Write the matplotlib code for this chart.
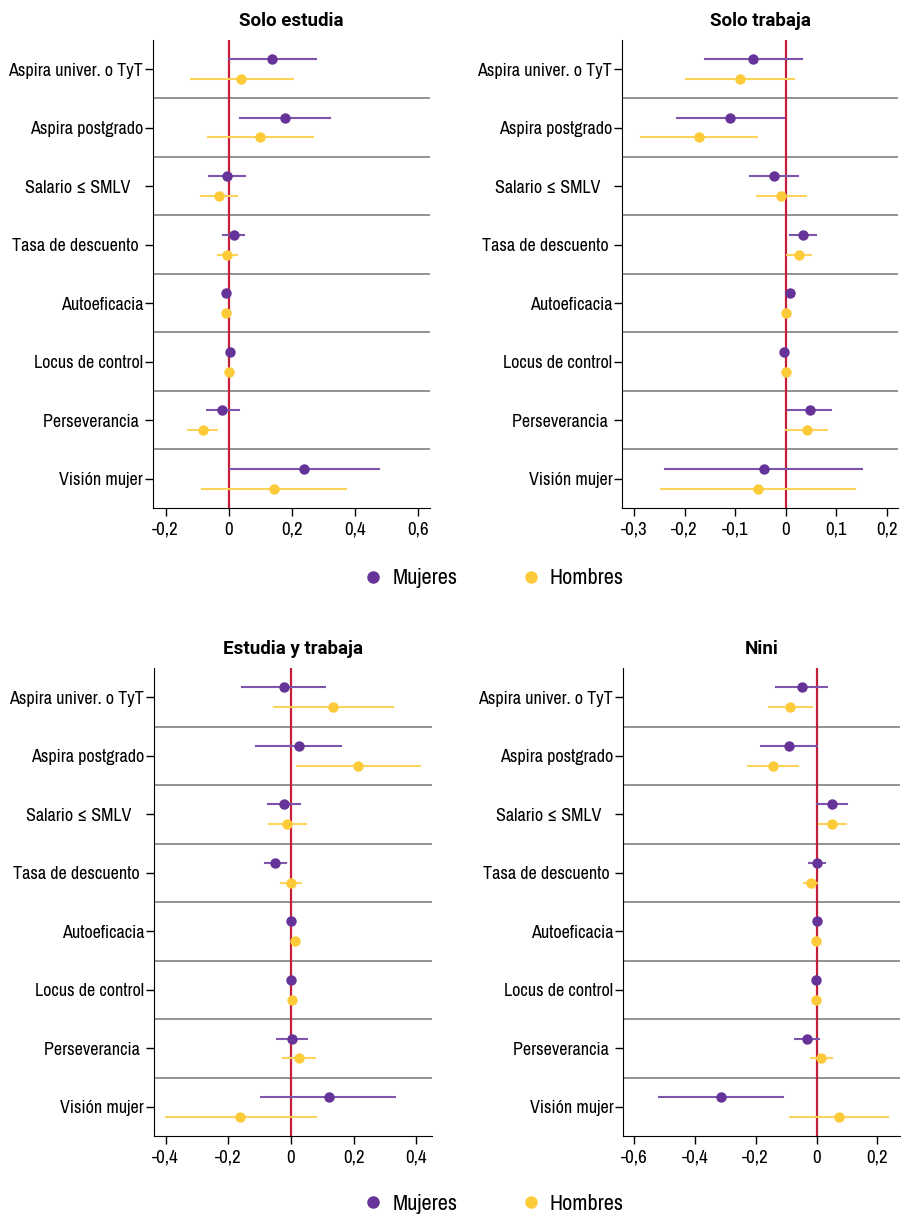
import matplotlib
matplotlib.use("Agg")
import matplotlib.pyplot as plt
from matplotlib.lines import Line2D
from matplotlib import font_manager

# ── datos (estimación, límite inferior, límite superior) ─────────────
categorias = ["Aspira univer. o TyT", "Aspira postgrado", "Salario \u2264 SMLV   ",
              "Tasa de descuento ", "Autoeficacia", "Locus de control",
              "Perseverancia ", "Visión mujer"]

solo_estudia_mujeres = [(0.137, 0.000, 0.275), (0.177, 0.035, 0.319), (-0.007, -0.063, 0.051),
                        (0.015, -0.019, 0.049), (-0.009, -0.014, -0.004), (0.003, -0.002, 0.008),
                        (-0.020, -0.068, 0.032), (0.239, 0.005, 0.475)]
solo_estudia_hombres = [(0.040, -0.121, 0.202), (0.100, -0.066, 0.267), (-0.032, -0.089, 0.026),
                        (-0.005, -0.035, 0.025), (-0.009, -0.014, -0.004), (0.000, -0.005, 0.005),
                        (-0.082, -0.130, -0.037), (0.143, -0.084, 0.372)]

solo_trabaja_mujeres = [(-0.064, -0.160, 0.032), (-0.110, -0.216, -0.004), (-0.023, -0.070, 0.025),
                        (0.034, 0.009, 0.059), (0.009, 0.006, 0.012), (-0.003, -0.006, 0.000),
                        (0.047, 0.005, 0.089), (-0.044, -0.238, 0.150)]
solo_trabaja_hombres = [(-0.090, -0.198, 0.017), (-0.172, -0.286, -0.057), (-0.009, -0.057, 0.040),
                        (0.026, 0.002, 0.050), (0.000, -0.003, 0.003), (0.000, -0.003, 0.003),
                        (0.042, 0.000, 0.082), (-0.055, -0.246, 0.137)]

estudia_trabaja_mujeres = [(-0.023, -0.155, 0.108), (0.025, -0.110, 0.159), (-0.022, -0.073, 0.030),
                           (-0.050, -0.082, -0.017), (0.000, -0.004, 0.004), (0.001, -0.003, 0.005),
                           (0.004, -0.043, 0.051), (0.121, -0.094, 0.333)]
estudia_trabaja_hombres = [(0.135, -0.054, 0.327), (0.215, 0.020, 0.411), (-0.012, -0.069, 0.048),
                           (0.000, -0.032, 0.031), (0.012, 0.008, 0.016), (0.002, -0.002, 0.006),
                           (0.026, -0.025, 0.076), (-0.161, -0.400, 0.079)]

nini_mujeres = [(-0.049, -0.132, 0.033), (-0.091, -0.184, 0.000), (0.052, 0.002, 0.101),
                (0.000, -0.025, 0.029), (0.002, -0.002, 0.006), (-0.001, -0.005, 0.003),
                (-0.031, -0.071, 0.009), (-0.314, -0.518, -0.112)]
nini_hombres = [(-0.088, -0.158, -0.015), (-0.144, -0.226, -0.060), (0.052, 0.008, 0.095),
                (-0.020, -0.041, 0.001), (-0.001, -0.005, 0.003), (-0.001, -0.005, 0.003),
                (0.016, -0.018, 0.050), (0.072, -0.088, 0.234)]

titulos = ["Solo estudia", "Solo trabaja", "Estudia y trabaja", "Nini"]
ticks_x = [[-0.2, 0, 0.2, 0.4, 0.6], [-0.3, -0.2, -0.1, 0, 0.1, 0.2],
           [-0.4, -0.2, 0, 0.2, 0.4], [-0.6, -0.4, -0.2, 0, 0.2]]

# ── fuente: busca alguna condensada ──────────────────────────────────
condensadas = [f for f in font_manager.fontManager.ttflist
               if ("Narrow" in f.name or "Condensed" in f.name
                   or f.stretch in ("condensed", "semi-condensed", 600, 700))]
if condensadas:
    elegida = sorted(condensadas, key=lambda f: (f.name != "Liberation Sans Narrow", f.name))[0]
    plt.rcParams["font.family"] = [elegida.name, "DejaVu Sans"]
    if elegida.stretch not in ("normal", 500):
        plt.rcParams["font.stretch"] = elegida.stretch
    tam = 13
else:
    plt.rcParams["font.family"] = ["Roboto", "DejaVu Sans"]
    tam = 11.2

MORADO = "#663399"
MORADO_CI = "#7d55ad"
AMARILLO = "#fdca3a"
AMARILLO_CI = "#fdd459"
ROJO = "#c41e3a"
GRIS = "#8a8a8a"

fig = plt.figure(figsize=(9.03, 12.15), dpi=100)

posiciones = [
    [0.1694, 0.5819, 0.3068, 0.3852],
    [0.6888, 0.5819, 0.3057, 0.3852],
    [0.1705, 0.0650, 0.3079, 0.3852],
    [0.6899, 0.0650, 0.3068, 0.3852],
]
limites = [(-0.24, 0.637), (-0.324, 0.222), (-0.437, 0.45), (-0.636, 0.274)]
datos = [(solo_estudia_mujeres, solo_estudia_hombres),
         (solo_trabaja_mujeres, solo_trabaja_hombres),
         (estudia_trabaja_mujeres, estudia_trabaja_hombres),
         (nini_mujeres, nini_hombres)]

def fmt(v):
    if abs(v) < 1e-9:
        return "0"
    return f"{v:.1f}".replace(".", ",")

n = len(categorias)
off = 0.167
for pos, lim, (muj, hom), titulo, tx in zip(posiciones, limites, datos, titulos, ticks_x):
    ax = fig.add_axes(pos)
    # separadores horizontales
    for k in range(n - 1):
        ax.axhline(k + 0.5, color=GRIS, lw=1.3, zorder=1)
    ax.axvline(0, color=ROJO, lw=1.6, zorder=2)
    for i in range(n):
        est, lo, hi = muj[i]
        ax.plot([lo, hi], [i - off, i - off], color=MORADO_CI, lw=1.5, zorder=3)
        ax.plot(est, i - off, "o", color=MORADO, ms=7.5, mec="none", zorder=4)
        est, lo, hi = hom[i]
        ax.plot([lo, hi], [i + off, i + off], color=AMARILLO_CI, lw=1.5, zorder=3)
        ax.plot(est, i + off, "o", color=AMARILLO, ms=7.5, mec="none", zorder=4)
    ax.set_xlim(*lim)
    ax.set_ylim(n - 0.5, -0.5)
    ax.set_yticks(range(n))
    ax.set_yticklabels(categorias, fontsize=tam)
    ax.set_xticks(tx)
    ax.set_xticklabels([fmt(v) for v in tx], fontsize=tam + 0.5)
    ax.tick_params(axis="y", length=6, width=1, pad=1)
    ax.tick_params(axis="x", length=6, width=1, pad=4)
    for s in ["top", "right"]:
        ax.spines[s].set_visible(False)
    ax.set_title(titulo, fontsize=13.5, fontweight="bold", pad=10,
                 family=["Roboto", "DejaVu Sans"])

handles = [Line2D([], [], marker="o", ls="none", color=MORADO, ms=9, mec="none"),
           Line2D([], [], marker="o", ls="none", color=AMARILLO, ms=9, mec="none")]
for y in (0.524, 0.009):
    fig.legend(handles, ["Mujeres", "Hombres"], loc="center", bbox_to_anchor=(0.546, y),
               ncol=2, frameon=False, fontsize=tam + 3, handlelength=1.0,
               handletextpad=0.36, columnspacing=2.8)

fig.savefig("out.png", dpi=100)
